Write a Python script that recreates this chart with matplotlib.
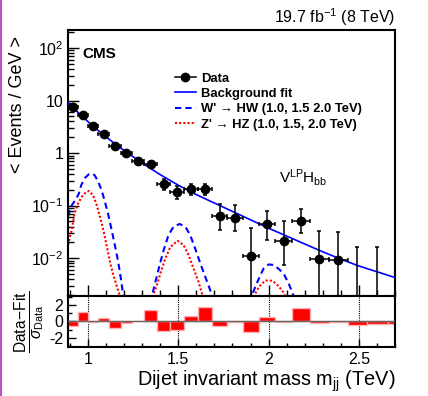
import numpy as np
import matplotlib
matplotlib.use("Agg")
import matplotlib.pyplot as plt
from matplotlib.lines import Line2D
from matplotlib.ticker import MultipleLocator, FixedLocator, NullFormatter, LogLocator, FixedFormatter

plt.rcParams["font.family"] = ["Liberation Sans", "DejaVu Sans"]
plt.rcParams["mathtext.fontset"] = "custom"
plt.rcParams["mathtext.rm"] = "Liberation Sans"
plt.rcParams["mathtext.it"] = "Liberation Sans:italic"
plt.rcParams["mathtext.bf"] = "Liberation Sans:bold"

# dijet mass bin edges (TeV)
bin_edges = [0.890, 0.944, 1.000, 1.058, 1.118, 1.181, 1.246, 1.313, 1.383, 1.455,
             1.530, 1.607, 1.687, 1.770, 1.856, 1.945, 2.037, 2.132, 2.231, 2.332,
             2.438, 2.546, 2.659, 2.775]

# data points (first 20 bins), events / GeV
data_y = [7.4, 5.3, 3.27, 2.30, 1.38, 1.01, 0.72, 0.617, 0.257, 0.178,
          0.204, 0.206, 0.0623, 0.0586, 0.0111, 0.0444, 0.0208, 0.0507, 0.0097, 0.0094]
data_lo = [0.37, 0.31, 0.24, 0.19, 0.15, 0.12, 0.10, 0.095, 0.055, 0.045,
           0.047, 0.047, 0.028, 0.026, 0.01109, 0.022, 0.0134, 0.021, 0.00969, 0.00939]
data_hi = [0.37, 0.31, 0.24, 0.19, 0.15, 0.12, 0.10, 0.095, 0.065, 0.055,
           0.057, 0.057, 0.043, 0.043, 0.0267, 0.034, 0.030, 0.035, 0.023, 0.022]
# empty bins 21, 22: upper error only
empty_hi = [0.0164, 0.0164]

# background fit
bkg_m = [0.89, 0.95, 1.0, 1.05, 1.1, 1.15, 1.2, 1.3, 1.4, 1.5, 1.6, 1.7, 1.8,
         1.9, 2.0, 2.1, 2.2, 2.3, 2.4, 2.5, 2.6, 2.7]
bkg_y = [8.91, 5.75, 3.98, 2.82, 2.04, 1.50, 1.12, 0.646, 0.389, 0.245, 0.162,
         0.112, 0.0776, 0.0537, 0.0372, 0.0263, 0.0186, 0.0132, 0.00955, 0.00708,
         0.00550, 0.00427]

# W' -> HW signal shapes (1.0, 1.5, 2.0 TeV)
wp_m_10 = [0.890, 0.911, 0.935, 0.950, 0.963, 0.981, 1.006, 1.020, 1.037, 1.055,
           1.074, 1.092, 1.111, 1.129, 1.147, 1.166, 1.181, 1.194, 1.205]
wp_y_10 = [0.063, 0.102, 0.135, 0.170, 0.245, 0.331, 0.398, 0.407, 0.380, 0.295,
           0.204, 0.126, 0.0708, 0.0372, 0.0191, 0.00912, 0.00437, 0.00214, 0.00112]
wp_m_15 = [1.350, 1.360, 1.378, 1.397, 1.419, 1.446, 1.474, 1.507, 1.539, 1.566,
           1.594, 1.622, 1.650, 1.677, 1.695]
wp_y_15 = [0.00141, 0.00229, 0.00407, 0.00741, 0.0141, 0.0275, 0.0398, 0.0447,
           0.0398, 0.0275, 0.0151, 0.00794, 0.00437, 0.00245, 0.00158]
wp_m_20 = [1.900, 1.908, 1.926, 1.950, 1.972, 2.000, 2.028, 2.061, 2.087, 2.111,
           2.130, 2.138, 2.145]
wp_y_20 = [0.00141, 0.00195, 0.00282, 0.00437, 0.00631, 0.00759, 0.00741, 0.00603,
           0.00479, 0.00331, 0.00229, 0.00191, 0.00141]

# Z' -> HZ signal shapes
zp_m_10 = [0.890, 0.911, 0.926, 0.945, 0.968, 0.990, 1.006, 1.028, 1.046, 1.064,
           1.083, 1.101, 1.120, 1.138, 1.161, 1.175, 1.190]
zp_y_10 = [0.0178, 0.0355, 0.0708, 0.110, 0.151, 0.182, 0.190, 0.158, 0.110, 0.0661,
           0.0372, 0.0191, 0.00912, 0.00513, 0.00282, 0.00200, 0.00112]
zp_m_15 = [1.350, 1.360, 1.382, 1.404, 1.428, 1.456, 1.496, 1.529, 1.557, 1.585,
           1.612, 1.631, 1.645]
zp_y_15 = [0.00126, 0.00191, 0.00309, 0.00550, 0.00977, 0.0162, 0.0214, 0.0178,
           0.0115, 0.00631, 0.00355, 0.00214, 0.00141]
zp_m_20 = [1.910, 1.917, 1.936, 1.958, 1.982, 2.006, 2.028, 2.055, 2.080, 2.092, 2.100]
zp_y_20 = [0.00126, 0.00182, 0.00245, 0.00316, 0.00372, 0.00380, 0.00355, 0.00295,
           0.00229, 0.00191, 0.00126]

# (Data-Fit)/sigma per bin
resid = [-0.6, 1.2, -0.05, 0.4, -0.78, -0.15, 0.05, 1.35, -1.15, -1.0, 0.7, 1.8,
         -0.6, -0.1, -1.3, 0.6, -0.1, 1.62, -0.15, -0.05, -0.42, -0.25, -0.25]

ytick_vals = [1e-2, 1e-1, 1, 10, 100]
ytick_labels = [r"10$^{-2}$", r"10$^{-1}$", "1", "10", r"10$^{2}$"]


def main():
    edges = np.array(bin_edges)
    centers = 0.5 * (edges[1:] + edges[:-1])
    halfw = 0.5 * (edges[1:] - edges[:-1])
    n = len(data_y)

    fig = plt.figure(figsize=(4.28, 3.96), dpi=100)
    ax = fig.add_axes([0.159, 0.2525, 0.764, 0.6715])
    axr = fig.add_axes([0.159, 0.124, 0.764, 0.1285], sharex=ax)

    # background fit
    ax.plot(bkg_m, bkg_y, color="#0000ff", lw=1.2, zorder=3)
    # signals
    for m, y in [(wp_m_10, wp_y_10), (wp_m_15, wp_y_15), (wp_m_20, wp_y_20)]:
        ax.plot(m, y, color="#0000ff", lw=1.5, dashes=(3, 2), zorder=2)
    for m, y in [(zp_m_10, zp_y_10), (zp_m_15, zp_y_15), (zp_m_20, zp_y_20)]:
        ax.plot(m, y, color="#ff0000", lw=1.5, dashes=(1, 1), zorder=2)

    # data
    ax.errorbar(centers[:n], data_y, xerr=halfw[:n], yerr=[data_lo, data_hi],
                fmt="o", color="black", ms=6, elinewidth=1.1, capsize=1.5,
                capthick=1.1, zorder=4)
    ylo = np.array(empty_hi) * 0.999
    ax.errorbar(centers[n:n + 2], empty_hi, yerr=[ylo, [0, 0]], fmt="none",
                ecolor="black", elinewidth=1.1, capsize=1.5, capthick=1.1, zorder=4)

    ax.set_yscale("log")
    ax.set_ylim(0.0019, 220)
    ax.set_xlim(0.89, 2.70)
    ax.set_ylabel("< Events / GeV >", fontsize=13, labelpad=2)
    ax.yaxis.set_label_coords(-0.13, 0.72)
    ax.yaxis.set_major_locator(FixedLocator(ytick_vals))
    ax.yaxis.set_major_formatter(FixedFormatter(ytick_labels))
    ax.yaxis.set_minor_locator(LogLocator(base=10, subs=np.arange(2, 10), numticks=20))
    ax.yaxis.set_minor_formatter(NullFormatter())
    ax.tick_params(axis="both", which="major", direction="in", length=8, width=1,
                   labelsize=11.5, top=False, right=False)
    ax.tick_params(axis="both", which="minor", direction="in", length=4, width=1)
    ax.tick_params(axis="x", labelbottom=False)
    ax.xaxis.set_major_locator(FixedLocator([1.0, 1.5, 2.0, 2.5]))
    ax.xaxis.set_minor_locator(MultipleLocator(0.1))
    for s in ax.spines.values():
        s.set_linewidth(1.5)

    ax.text(0.045, 0.91, "CMS", transform=ax.transAxes, fontsize=11,
            fontweight="bold", va="center", ha="left")
    ax.text(1.0, 1.008, r"19.7 fb$^{-1}$ (8 TeV)", transform=ax.transAxes,
            fontsize=11.5, ha="right", va="bottom")
    ax.text(0.72, 0.445, r"V$^{\mathrm{LP}}$H$_{\mathrm{bb}}$", transform=ax.transAxes,
            fontsize=11, ha="center", va="center")

    handles = [
        Line2D([], [], color="black", marker="o", ms=6, lw=1.1),
        Line2D([], [], color="#0000ff", lw=1.2),
        Line2D([], [], color="#0000ff", lw=1.5, dashes=(3, 2)),
        Line2D([], [], color="#ff0000", lw=1.5, dashes=(1, 1)),
    ]
    labels = ["Data", "Background fit",
              "W' \u2192 HW (1.0, 1.5 2.0 TeV)",
              "Z' \u2192 HZ (1.0, 1.5, 2.0 TeV)"]
    leg = ax.legend(handles, labels, loc="upper left", bbox_to_anchor=(0.31, 0.86),
                    frameon=False, fontsize=9.4, handlelength=1.6, handletextpad=0.4,
                    labelspacing=0.24, borderaxespad=0)
    for t in leg.get_texts():
        t.set_fontweight("bold")

    # residual panel
    axr.bar(centers, resid, width=2 * halfw, color="#ff0000", edgecolor="#ffb0b0",
            linewidth=1.0, zorder=2)
    axr.axhline(0, color="#666666", lw=1.0, zorder=3)
    for xv in [1.0, 1.5, 2.0, 2.5]:
        axr.axvline(xv, color="black", lw=0.8, ls=(0, (1, 1)), zorder=1)
    axr.set_ylim(-3.1, 3.1)
    axr.set_yticks([-2, 0, 2])
    axr.set_yticklabels(["-2", "0", "2"])
    axr.yaxis.set_minor_locator(MultipleLocator(1))
    axr.tick_params(axis="both", which="major", direction="in", length=6, width=1,
                    labelsize=11.5)
    axr.tick_params(axis="both", which="minor", direction="in", length=3, width=1)
    axr.set_xlim(0.89, 2.70)
    axr.set_xticks([1.0, 1.5, 2.0, 2.5])
    axr.set_xticklabels(["1", "1.5", "2", "2.5"])
    for s in axr.spines.values():
        s.set_linewidth(1.5)
    axr.set_ylabel(r"$\frac{\mathrm{Data\!-\!Fit}}{\sigma_{\mathrm{Data}}}$", fontsize=16)
    axr.yaxis.set_label_coords(-0.065, 0.5)
    axr.set_xlabel(r"Dijet invariant mass m$_{\mathrm{jj}}$ (TeV)", fontsize=14.3)
    axr.xaxis.set_label_coords(1.0, -0.42)
    axr.xaxis.label.set_horizontalalignment("right")

    # screenshot border
    fig.add_artist(Line2D([0.003, 0.003], [0, 1], color="#c050c8", lw=1.5,
                          transform=fig.transFigure))

    fig.savefig("out.png", dpi=100)
    plt.close(fig)


if __name__ == "__main__":
    main()
